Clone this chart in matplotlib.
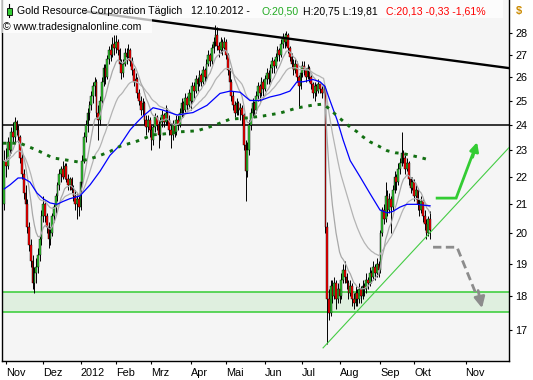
import numpy as np
import pandas as pd
import matplotlib
matplotlib.use("Agg")
import matplotlib.pyplot as plt
from matplotlib.patches import Rectangle
from matplotlib.ticker import NullLocator

plt.rcParams['font.family'] = ['Liberation Sans', 'DejaVu Sans']

# ---------------- data (daily, 31 Oct 2011 .. 12 Oct 2012) ----------------
opens = [21.0,
    22.6, 22.4, 23.3, 23.0, 23.7, 23.5, 24.1, 23.8, 23.5, 22.7, 22.1, 21.4, 21.0, 20.2, 19.6, 19.1, 18.4, 18.7, 18.9, 19.3, 19.8,
    20.6, 21.0, 20.6, 20.2, 19.8, 20.0, 20.6, 20.9, 21.3, 21.7, 22.1, 22.3, 22.0, 22.4, 21.9, 21.7, 21.9, 21.5, 21.3, 21.0, 21.2,
    20.9, 21.8, 22.6, 23.5, 24.0, 24.5, 24.8, 25.2, 25.6, 25.8, 24.5, 24.2, 25.0, 25.8, 26.4, 26.0, 26.8, 27.2, 27.0, 27.5,
    27.3, 27.6, 27.2, 26.6, 26.2, 26.6, 27.1, 26.9, 27.2, 26.7, 26.3, 25.8, 25.9, 25.3, 25.0, 24.6, 24.9, 24.2, 23.9, 24.2,
    23.8, 23.4, 23.9, 24.3, 24.0, 23.6, 24.1, 24.4, 24.1, 24.5, 24.2, 23.8, 23.6, 24.0, 23.7, 24.2, 24.0, 24.5, 24.9, 24.6, 25.1, 24.8,
    25.3, 25.0, 25.6, 25.4, 25.9, 25.7, 26.1, 25.8, 26.3, 26.0, 26.6, 27.0, 26.7, 27.3, 27.6, 27.9, 27.4, 27.2, 27.6, 27.3,
    27.6, 27.0, 26.3, 25.8, 25.2, 24.8, 24.5, 24.9, 24.6, 24.7, 24.4, 23.2, 22.2, 23.0, 24.0, 24.5, 24.9, 24.6, 25.2, 25.6, 25.3, 25.8,
    25.5, 25.9, 26.2, 25.9, 26.4, 26.7, 26.5, 26.9, 27.2, 27.0, 27.5, 27.8, 27.6, 27.9, 27.3, 26.9, 26.6, 26.3, 26.6, 26.0, 25.6,
    26.2, 26.5, 26.3, 26.0, 26.4, 26.0, 25.7, 25.3, 25.6, 25.4, 25.7, 25.5, 25.3, 25.5, 20.2, 17.9, 17.5, 18.3, 18.0, 18.4, 17.9,
    18.2, 18.0, 18.5, 18.8, 18.6, 18.4, 18.1, 18.3, 17.9, 17.8, 18.1, 17.9, 18.2, 18.0, 18.3, 18.2, 18.5, 18.4, 18.7, 18.6, 18.9, 18.7, 19.0,
    18.8, 20.0, 20.8, 20.5, 21.3, 20.8, 21.2, 20.9, 21.5, 22.0, 21.8, 22.3, 22.5, 22.9, 22.7, 22.3, 22.5, 21.9, 21.6,
    21.8, 21.3, 21.5, 21.0, 20.8, 21.1, 20.6, 20.3, 20.0, 20.50]

highs = [23.0,
    23.1, 23.5, 23.6, 23.9, 24.1, 24.3, 24.2, 24.0, 23.6, 22.9, 22.3, 21.7, 21.2, 20.4, 19.8, 19.3, 18.9, 19.2, 19.5, 19.9, 20.8,
    21.3, 21.1, 20.7, 20.4, 20.2, 20.7, 21.0, 21.4, 21.8, 22.3, 22.4, 22.6, 22.5, 22.5, 22.1, 22.0, 22.0, 21.7, 21.5, 21.4, 21.3,
    22.0, 22.8, 23.7, 24.2, 24.7, 25.0, 25.4, 25.8, 26.0, 25.9, 24.8, 25.2, 26.0, 26.6, 26.6, 27.0, 27.4, 27.5, 27.8, 27.9,
    27.9, 27.7, 27.3, 26.8, 26.8, 27.3, 27.3, 27.5, 27.3, 26.9, 26.4, 26.2, 26.0, 25.5, 25.2, 25.1, 25.0, 24.4, 24.4, 24.3,
    24.0, 24.0, 24.5, 24.4, 24.2, 24.3, 24.6, 24.5, 24.8, 24.7, 24.4, 24.0, 24.2, 24.2, 24.4, 24.4, 24.7, 25.1, 25.0, 25.3, 25.2, 25.5,
    25.6, 25.8, 25.8, 26.1, 26.0, 26.3, 26.2, 26.5, 26.4, 26.8, 27.2, 27.1, 27.5, 27.8, 28.4, 28.3, 27.6, 27.8, 27.7, 27.8,
    27.7, 27.1, 26.4, 25.9, 25.4, 25.0, 25.1, 25.0, 24.9, 24.8, 24.5, 23.4, 23.3, 24.2, 24.7, 25.1, 25.0, 25.4, 25.8, 25.7, 26.0, 25.9,
    26.1, 26.4, 26.3, 26.6, 26.9, 26.8, 27.1, 27.4, 27.3, 27.7, 28.0, 28.0, 28.1, 28.0, 27.4, 27.1, 26.8, 26.8, 26.7, 26.1, 26.4,
    26.7, 26.7, 26.4, 26.6, 26.5, 26.1, 25.8, 25.8, 25.7, 25.9, 25.8, 25.6, 25.7, 25.6, 20.4, 18.2, 18.5, 18.5, 18.6, 18.5, 18.4,
    18.4, 18.7, 19.0, 19.1, 18.7, 18.5, 18.5, 18.4, 18.1, 18.3, 18.2, 18.4, 18.3, 18.5, 18.4, 18.7, 18.6, 18.9, 18.8, 19.1, 19.0, 19.2, 19.1,
    20.1, 20.9, 21.0, 21.8, 21.5, 21.4, 21.3, 21.7, 22.2, 22.1, 22.5, 22.7, 23.7, 23.0, 22.8, 22.7, 22.6, 22.0, 22.0,
    21.9, 21.7, 21.6, 21.2, 21.3, 21.2, 20.8, 20.5, 20.6, 20.75]

lows = [20.8,
    22.0, 22.3, 22.8, 22.9, 23.3, 23.3, 23.6, 23.3, 22.5, 21.9, 21.2, 20.8, 20.0, 19.4, 18.9, 18.2, 18.1, 18.4, 18.7, 19.1, 19.6,
    20.4, 20.4, 20.0, 19.5, 19.6, 19.9, 20.4, 20.7, 21.1, 21.5, 21.8, 21.9, 21.9, 21.8, 21.5, 21.5, 21.4, 21.1, 20.8, 20.5, 20.6,
    20.8, 21.7, 22.5, 23.3, 23.7, 24.2, 24.6, 24.9, 25.2, 24.3, 23.4, 24.0, 24.9, 25.6, 25.7, 25.9, 26.6, 26.7, 26.9, 27.0,
    27.1, 27.0, 26.4, 25.9, 26.0, 26.5, 26.6, 26.8, 26.5, 26.1, 25.6, 25.5, 25.1, 24.8, 24.4, 24.4, 24.0, 23.6, 23.7, 23.5,
    23.0, 23.2, 23.7, 23.8, 23.1, 23.4, 23.9, 23.9, 24.0, 24.0, 23.6, 23.1, 23.4, 23.5, 23.6, 23.8, 23.9, 24.3, 24.3, 24.5, 24.6, 24.7,
    24.6, 24.9, 25.1, 25.3, 25.4, 25.6, 25.6, 25.7, 25.8, 25.9, 26.5, 26.5, 26.6, 27.1, 27.4, 27.2, 26.9, 27.1, 27.0, 27.2,
    26.8, 26.1, 25.6, 25.0, 24.6, 24.3, 24.4, 24.4, 24.2, 24.0, 23.0, 21.1, 22.0, 22.8, 23.8, 24.3, 24.3, 24.5, 25.0, 25.0, 25.2, 25.2,
    25.4, 25.7, 25.7, 25.8, 26.2, 26.2, 26.4, 26.7, 26.7, 26.9, 27.3, 27.3, 27.4, 27.1, 26.7, 26.4, 26.1, 26.2, 25.8, 24.7, 25.5,
    26.0, 26.1, 25.8, 25.9, 25.8, 25.5, 25.1, 25.0, 25.2, 25.3, 25.3, 25.1, 25.2, 20.0, 16.6, 17.3, 17.4, 17.8, 17.9, 17.6, 17.8,
    17.8, 17.9, 18.4, 18.4, 18.2, 17.9, 18.0, 17.7, 17.6, 17.7, 17.7, 17.8, 17.8, 17.9, 18.0, 18.1, 18.2, 18.3, 18.4, 18.5, 18.5, 18.6, 18.6,
    18.7, 19.9, 20.3, 20.4, 20.6, 20.7, 20.0, 20.8, 21.4, 21.5, 21.7, 22.1, 22.4, 22.5, 22.1, 22.2, 21.7, 21.4, 21.5,
    21.1, 21.2, 20.8, 20.6, 20.7, 20.4, 20.1, 19.8, 19.9, 19.81]

closes = [22.6,
    22.4, 23.3, 23.0, 23.7, 23.5, 24.1, 23.8, 23.5, 22.7, 22.1, 21.4, 21.0, 20.2, 19.6, 19.1, 18.4, 18.7, 18.9, 19.3, 19.8, 20.6,
    21.0, 20.6, 20.2, 19.8, 20.0, 20.6, 20.9, 21.3, 21.7, 22.1, 22.3, 22.0, 22.4, 21.9, 21.7, 21.9, 21.5, 21.3, 21.0, 21.2, 20.9,
    21.8, 22.6, 23.5, 24.0, 24.5, 24.8, 25.2, 25.6, 25.8, 24.5, 24.2, 25.0, 25.8, 26.4, 26.0, 26.8, 27.2, 27.0, 27.5, 27.3,
    27.6, 27.2, 26.6, 26.2, 26.6, 27.1, 26.9, 27.2, 26.7, 26.3, 25.8, 25.9, 25.3, 25.0, 24.6, 24.9, 24.2, 23.9, 24.2, 23.8,
    23.4, 23.9, 24.3, 24.0, 23.6, 24.1, 24.4, 24.1, 24.5, 24.2, 23.8, 23.6, 24.0, 23.7, 24.2, 24.0, 24.5, 24.9, 24.6, 25.1, 24.8, 25.3,
    25.0, 25.6, 25.4, 25.9, 25.7, 26.1, 25.8, 26.3, 26.0, 26.6, 27.0, 26.7, 27.3, 27.6, 27.9, 27.4, 27.2, 27.6, 27.3, 27.6,
    27.0, 26.3, 25.8, 25.2, 24.8, 24.5, 24.9, 24.6, 24.7, 24.4, 23.2, 22.2, 23.0, 24.0, 24.5, 24.9, 24.6, 25.2, 25.6, 25.3, 25.8, 25.5,
    25.9, 26.2, 25.9, 26.4, 26.7, 26.5, 26.9, 27.2, 27.0, 27.5, 27.8, 27.6, 27.9, 27.3, 26.9, 26.6, 26.3, 26.6, 26.0, 25.6, 26.2,
    26.5, 26.3, 26.0, 26.4, 26.0, 25.7, 25.3, 25.6, 25.4, 25.7, 25.5, 25.3, 25.5, 20.2, 17.9, 17.5, 18.3, 18.0, 18.4, 17.9, 18.2,
    18.0, 18.5, 18.8, 18.6, 18.4, 18.1, 18.3, 17.9, 17.8, 18.1, 17.9, 18.2, 18.0, 18.3, 18.2, 18.5, 18.4, 18.7, 18.6, 18.9, 18.7, 19.0, 18.8,
    20.0, 20.8, 20.5, 21.3, 20.8, 21.2, 20.9, 21.5, 22.0, 21.8, 22.3, 22.5, 22.9, 22.7, 22.3, 22.5, 21.9, 21.6, 21.8,
    21.3, 21.5, 21.0, 20.8, 21.1, 20.6, 20.3, 20.0, 20.5, 20.13]

# 50-day average (blue): trading-day index / price
blue_idx = [-1, 2.3, 6.8, 9.6, 13.5, 17.5, 20.9, 24.8, 28.7, 32.1, 36, 41.7, 47.4, 53, 58.6, 64.3,
            70, 73.8, 77.2, 82.9, 88.5, 96.4, 105.4, 113.3, 120.6, 126.3, 132, 137.5, 143.2, 148.8,
            154.5, 160, 164, 167.4, 173, 177, 179.8, 182.6, 186.6, 190, 194, 199.5, 205, 210.8,
            214.8, 218, 222, 226, 231.7, 237.9, 239]
blue_val = [21.55, 21.7, 21.95, 21.95, 21.8, 21.4, 21.2, 21.05, 21.0, 21.1, 21.2, 21.3, 21.7, 22.2, 22.8, 23.2,
            23.8, 24.1, 24.35, 24.7, 24.6, 24.4, 24.5, 24.8, 25.3, 25.4, 25.35, 25.0, 25.0, 25.15,
            25.25, 25.4, 25.8, 25.8, 25.9, 25.8, 25.6, 25.0, 24.2, 23.4, 22.6, 22.0, 21.4, 20.8,
            20.7, 20.75, 20.9, 21.0, 21.0, 20.95, 20.95]

# long average (dark green dotted)
lma_idx = [-1.7, 7.9, 17.5, 26.5, 31.6, 36, 40.6, 45.7, 51.3, 58.6, 64.3, 73.8, 82.9, 88.5, 98,
           107.7, 116.7, 126.3, 135.9, 144.9, 154.5, 164, 173, 178.7, 182.6, 186.6, 190, 194,
           197.9, 201.2, 205, 209.7, 214.8, 219.3, 223.8, 228.9, 233.4, 237.9]
lma_val = [23.27, 23.27, 23.0, 22.7, 22.65, 22.6, 22.55, 22.64, 22.75, 22.95, 23.15, 23.35, 23.6, 23.63, 23.72,
           23.76, 23.96, 24.23, 24.28, 24.36, 24.48, 24.69, 24.81, 24.85, 24.64, 24.36, 24.15, 23.91,
           23.72, 23.52, 23.33, 23.17, 22.98, 22.9, 22.87, 22.79, 22.72, 22.64]

month_pos = [0, 21, 42, 62, 82, 104, 124, 146, 167, 188, 211, 230, 259]
month_lbl = ['Nov', 'Dez', '2012', 'Feb', 'Mrz', 'Apr', 'Mai', 'Jun', 'Jul', 'Aug', 'Sep', 'Okt', 'Nov']
y_ticks = [17, 18, 19, 20, 21, 22, 23, 24, 25, 26, 27, 28]

band_lo, band_hi = 17.52, 18.12
hline_level = 24.0
down_trend = ([44.5, 283.5], [29.04, 26.4])
up_trend = ([178.7, 283.5], [16.5, 23.1])
green_arrow = ([243.0, 253.7, 265.5], [21.22, 21.22, 23.31])
gray_arrow = ([240.7, 254.2, 268.3], [19.54, 19.54, 17.64])

# ---------------- figure ----------------
W, H = 533, 380
fig = plt.figure(figsize=(W / 100, H / 100), dpi=100)
fig.patch.set_facecolor('white')
AX_L, AX_R, AX_T, AX_B = 2, 509, 0, 361
ax = fig.add_axes([AX_L / W, 1 - AX_B / H, (AX_R - AX_L) / W, (AX_B - AX_T) / H])
ax.set_facecolor('#f5f5f5')
ax.set_yscale('log')
ax.set_ylim(16.14, 29.6)
ax.set_xlim(-2.25, 283.5)

days = np.arange(-1, len(closes) - 1)
o = np.array(opens); h = np.array(highs); l = np.array(lows); c = np.array(closes)

# band + horizontal
ax.axhspan(band_lo, band_hi, color='#dfefdf', zorder=0.5, lw=0)
ax.axhline(band_lo, color='#33cc33', lw=1.1, zorder=1)
ax.axhline(band_hi, color='#33cc33', lw=1.1, zorder=1)
ax.axhline(hline_level, color='black', lw=1.1, zorder=1)

# candles
ax.vlines(days, l, h, color='black', lw=0.7, zorder=2)
up = c >= o
body_lo = np.minimum(o, c)
body_h = np.abs(c - o)
ax.bar(days[up], body_h[up], bottom=body_lo[up], width=0.95, color='#33cc33',
       edgecolor='black', lw=0.3, zorder=3)
ax.bar(days[~up], body_h[~up], bottom=body_lo[~up], width=0.95, color='#ff0000',
       edgecolor='black', lw=0.3, zorder=3)

# moving averages (exponential, computed from the closes)
cs = pd.Series(closes, index=days)
ma_fast = cs.ewm(span=10, adjust=False).mean()
ma_slow = cs.ewm(span=28, adjust=False).mean()
ax.plot(days, ma_slow.values, color='#b4b4b4', lw=0.9, zorder=4)
ax.plot(days, ma_fast.values, color='#a8a8a8', lw=0.9, zorder=4)
ax.plot(blue_idx, blue_val, color='#0000ff', lw=0.9, zorder=4)
ax.plot(lma_idx, lma_val, color='#126f12', lw=2.1, ls=(0, (1.2, 2.0)),
        solid_capstyle='butt', zorder=4)

# trend lines
ax.plot(*down_trend, color='black', lw=1.7, zorder=4)
ax.plot(*up_trend, color='#44cc44', lw=0.8, zorder=4)

# arrows
ax.plot(green_arrow[0][:2] + [green_arrow[0][2] - 1.2],
        green_arrow[1][:2] + [green_arrow[1][2] * 0.99], color='#33cc33', lw=2.0, zorder=5,
        solid_joinstyle='miter')
ax.annotate('', xy=(green_arrow[0][2], green_arrow[1][2]),
            xytext=(green_arrow[0][2] - 2.5, green_arrow[1][2] * 0.975),
            arrowprops=dict(arrowstyle='-|>', color='#33cc33', lw=2.0, mutation_scale=13,
                            shrinkA=0, shrinkB=0), zorder=5)
ax.plot(gray_arrow[0][:2] + [gray_arrow[0][2] - 1.5],
        gray_arrow[1][:2] + [gray_arrow[1][2] * 1.01], color='#8c8c8c', lw=2.0,
        ls=(0, (3, 1.6)), zorder=5)
ax.annotate('', xy=(gray_arrow[0][2], gray_arrow[1][2]),
            xytext=(gray_arrow[0][2] - 2.2, gray_arrow[1][2] * 1.03),
            arrowprops=dict(arrowstyle='-|>', color='#8c8c8c', lw=2.0, mutation_scale=16,
                            shrinkA=0, shrinkB=0), zorder=5)

# axes styling
for s in ['left', 'bottom', 'right']:
    ax.spines[s].set_color('black'); ax.spines[s].set_linewidth(1.0)
ax.spines['top'].set_visible(False)
ax.yaxis.tick_right()
ax.set_yticks(y_ticks)
ax.set_yticklabels([str(v) for v in y_ticks])
ax.yaxis.set_minor_locator(NullLocator())
ax.tick_params(axis='y', which='major', direction='out', length=2.5, width=0.8,
               pad=2, labelsize=7.8, colors='black')
ax.set_xticks(month_pos)
ax.set_xticklabels(month_lbl)
ax.xaxis.set_minor_locator(NullLocator())
ax.tick_params(axis='x', direction='out', length=2.5, width=0.8, pad=2.5,
               labelsize=7.8, colors='black')
for lb in ax.get_xticklabels():
    lb.set_ha('left')

# ---------------- header ----------------
def fx(px): return px / W
def fy(py): return 1 - py / H

fig.add_artist(Rectangle((fx(AX_L), fy(18)), (503 - AX_L) / W, 18 / H, transform=fig.transFigure,
                         facecolor='white', alpha=0.72, edgecolor='none', zorder=5))
fig.add_artist(Rectangle((fx(AX_L), fy(33)), (152 - AX_L) / W, 15 / H, transform=fig.transFigure,
                         facecolor='white', alpha=0.72, edgecolor='none', zorder=5))
# candle icon
fig.add_artist(plt.Line2D([fx(9), fx(9)], [fy(4), fy(17)], transform=fig.transFigure,
                          color='black', lw=0.8, zorder=6))
fig.add_artist(Rectangle((fx(6.5), fy(14.5)), 5 / W, 7 / H, transform=fig.transFigure,
                         facecolor='#33cc33', edgecolor='black', lw=0.6, zorder=6))

tkw = dict(fontsize=7.6, va='baseline', ha='left', zorder=7)
fig.text(fx(17), fy(14), 'Gold Resource Corporation Täglich', color='black', **tkw)
fig.text(fx(191), fy(14), '12.10.2012 -', color='black', **tkw)
fig.text(fx(261), fy(14), 'O:20,50', color='#22aa22', **tkw)
fig.text(fx(303), fy(14), 'H:20,75 L:19,81', color='black', **tkw)
fig.text(fx(386), fy(14), 'C:20,13 -0,33 -1,61%', color='#ff0000', **tkw)
fig.text(fx(3), fy(29.5), '© www.tradesignalonline.com', color='black', **tkw)
fig.text(fx(516), fy(14), '$', color='#cc8a00', fontsize=8, fontweight='bold',
         va='baseline', ha='left')

fig.savefig('out.png', dpi=100, facecolor='white')
